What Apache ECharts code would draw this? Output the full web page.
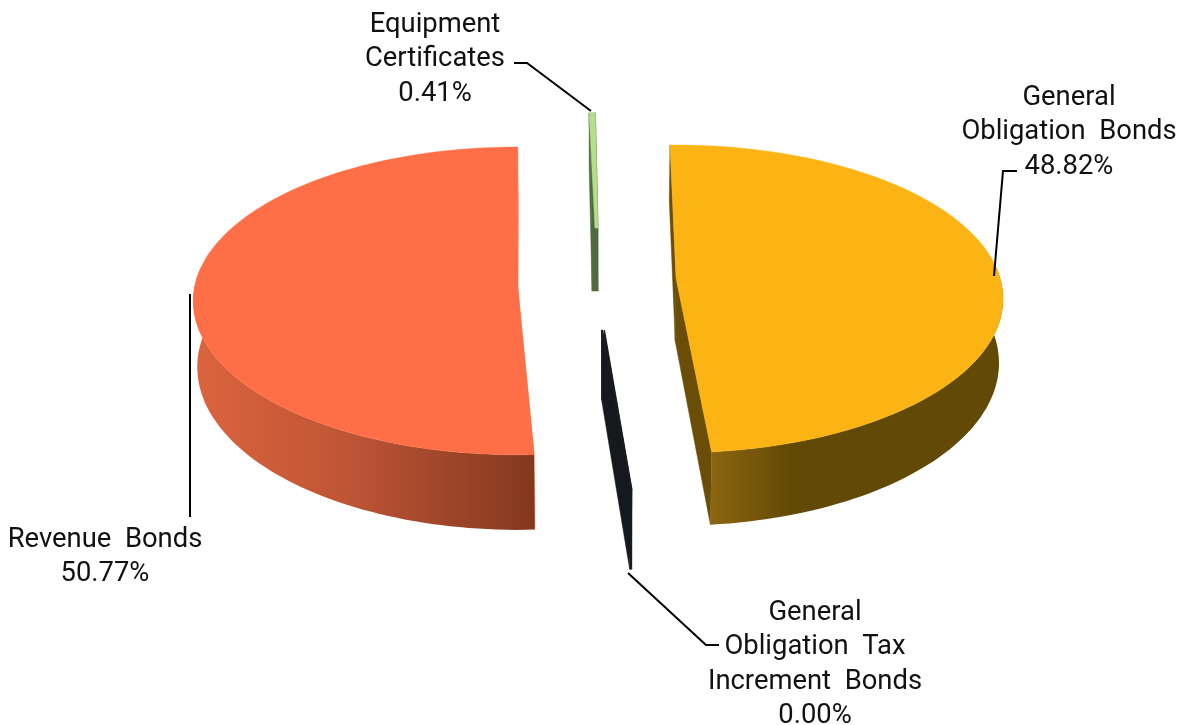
<!DOCTYPE html>
<html>
<head>
<meta charset="utf-8">
<style>html,body{margin:0;padding:0;background:#fff}#c{width:1181px;height:725px}</style>
<script src="https://cdn.jsdelivr.net/npm/echarts@6/dist/echarts.min.js"></script>
</head>
<body>
<div id="c"></div>
<script>
// ---- data ----
var categories = ['General Obligation Bonds', 'General Obligation Tax Increment Bonds', 'Revenue Bonds', 'Equipment Certificates'];
var percentValues = [48.82, 0.00, 50.77, 0.41];
var valueLabels = ['48.82%', '0.00%', '50.77%', '0.41%'];
var labelLines = [
  ['General', 'Obligation  Bonds', '48.82%'],
  ['General', 'Obligation  Tax', 'Increment  Bonds', '0.00%'],
  ['Revenue  Bonds', '50.77%'],
  ['Equipment', 'Certificates', '0.41%']
];

// ---- layout ----
var centre = [597, 279], radiusX = 324, radiusY = 151, perspective = 0.136, depth = 63, bottomScale = 0.99;
var explode = [[79, -1], [6, 51], [-80, 1], [-2, -51]];
var radialScale = [1, 0.93, 1, 0.85];
var widthScale = [1, 1, 0.99, 1];
var depthScale = [1, 1.1, 1.03, 1];
var apexHalfWidth = [0, 1.5, 0, 3];
var startAngle = -1.2;
var angleShift = [0, 0.6, 2.8, 1.3];
var minSweep = 0.35;
var rimRange = [85, 275];
var labelAnchor = [[1069, 98], [815, 613], [105, 540], [435, 25]];
var lineHeight = 34.5;
var leaders = [
  [[1017, 171], [1003, 171], [994, 276]],
  [[628, 573], [706, 645], [719, 645]],
  [[190, 294], [190, 517]],
  [[514, 63], [527, 63], [591, 111]]
];
var topColors = ['#FBB414', '#1A1D20', '#FF6F47', '#B6DE8C'];
var innerColors = ['#6A4D06', '#15181C', '#FF6F47', '#4F6A3C'];
var wallStops = [
  [[0, '#8C6610'], [0.28, '#634906'], [1, '#634906']],
  [[0, '#15181C'], [1, '#15181C']],
  [[0, '#DC643E'], [0.45, '#BE5535'], [1, '#83381F']],
  [[0, '#4F6A3C'], [1, '#4F6A3C']]
];

function sliceAngles() {
  var total = percentValues.reduce(function (a, b) { return a + b; }, 0), cur = startAngle, out = [];
  percentValues.forEach(function (v, i) {
    var sweep = v / total * 360;
    out.push([cur + angleShift[i], cur + angleShift[i] + Math.max(sweep, minSweep)]);
    cur += sweep;
  });
  return out;
}
var angles = sliceAngles();

function project(i, deg, r, low, dx) {
  var t = deg * Math.PI / 180, X = Math.sin(t) * r * radialScale[i], Z = Math.cos(t) * r * radialScale[i];
  var s = 1 / (1 + perspective * Z);
  var ax = centre[0] + explode[i][0] + (dx || 0), ay = centre[1] + explode[i][1];
  var x = ax + radiusX * widthScale[i] * X * s, y = ay - radiusY * Z * s;
  if (low) {
    x = centre[0] + (x - centre[0]) * bottomScale;
    y += depth * depthScale[i] * s;
  }
  return [Math.round(x * 10) / 10, Math.round(y * 10) / 10];
}
function arc(i, a0, a1, low) {
  var n = Math.max(2, Math.ceil(Math.abs(a1 - a0) / 1.5)), pts = [];
  for (var k = 0; k <= n; k++) pts.push(project(i, a0 + (a1 - a0) * k / n, 1, low));
  return pts;
}
function poly(points, fill) {
  return { type: 'polygon', shape: { points: points }, style: { fill: fill, stroke: fill, lineWidth: 0.5 }, silent: true };
}

function renderItem(params, api) {
  var i = api.value(0), a = angles[i], a0 = a[0], a1 = a[1], children = [], w = apexHalfWidth[i];
  var arcT = arc(i, a0, a1, false), arcB = arc(i, a0, a1, true);
  var last = arcT.length - 1;
  // the apex side that faces each end of the arc
  var firstLeft = arcT[0][0] < arcT[last][0];
  var w0 = firstLeft ? -w : w, w1 = -w0;
  var apexT0 = project(i, 0, 0, false, w0), apexT1 = project(i, 0, 0, false, w1);
  var apexB0 = project(i, 0, 0, true, w0), apexB1 = project(i, 0, 0, true, w1);

  // inner cut walls, joined across the blunt apex of the thin slices
  children.push(poly([apexT0, arcT[0], arcB[0], apexB0], innerColors[i]));
  children.push(poly([apexT1, arcT[last], arcB[last], apexB1], innerColors[i]));
  if (w > 0) {
    children.push(poly([apexT0, arcT[0], arcT[last], apexT1, apexB1, apexB0], innerColors[i]));
  }

  // outer rim with a horizontal shading: only its front part shows
  var r0 = Math.max(a0, rimRange[0]), r1 = Math.min(a1, rimRange[1]);
  if (r1 > r0) {
    var rimT = arc(i, r0, r1, false), rimB = arc(i, r0, r1, true);
    var rim = rimT.concat(rimB.slice().reverse());
    var stops = wallStops[i];
    var grad = new echarts.graphic.LinearGradient(0, 0, 1, 0, stops.map(function (s) { return { offset: s[0], color: s[1] }; }));
    children.push({ type: 'polygon', shape: { points: rim }, silent: true, style: { fill: grad } });
  }

  // top face: on a blunt slice it narrows towards the right of the apex
  var apexMid = [(apexT0[0] + apexT1[0]) / 2, apexT0[1]];
  children.push(poly([apexT1, apexMid].concat(arcT), topColors[i]));

  // leader line and label
  children.push({
    type: 'polyline', shape: { points: leaders[i] }, silent: true,
    style: { fill: null, stroke: '#000', lineWidth: 2 }
  });
  labelLines[i].forEach(function (line, k) {
    children.push({
      type: 'text', silent: true,
      style: {
        text: line, x: labelAnchor[i][0], y: labelAnchor[i][1] + k * lineHeight,
        fill: '#111', font: '27.4px Roboto', align: 'center', verticalAlign: 'middle'
      }
    });
  });
  return { type: 'group', children: children };
}

var chart = echarts.init(document.getElementById('c'), null, { renderer: 'canvas' });
chart.setOption({
  animation: false,
  backgroundColor: '#ffffff',
  series: [{
    type: 'custom',
    coordinateSystem: 'none',
    renderItem: renderItem,
    encode: { value: 1 },
    data: percentValues.map(function (v, i) { return { name: categories[i], value: [i, v] }; })
  }]
});
</script>
</body>
</html>
